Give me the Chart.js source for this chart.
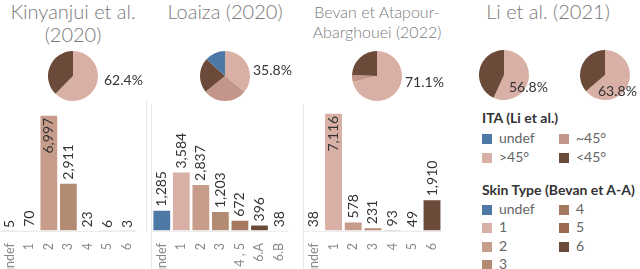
<!DOCTYPE html>
<html>
<head>
<meta charset="utf-8">
<script src="https://cdn.jsdelivr.net/npm/chart.js@4.4.1/dist/chart.umd.min.js"></script>
<style>
  body { margin: 0; background: #fff; font-family: Lato, "Open Sans", sans-serif; }
  #wrap { position: relative; width: 640px; height: 269px; overflow: hidden; }
  canvas { position: absolute; }
  .title { position: absolute; color: #7a7a7a; text-align: center; white-space: nowrap; line-height: 23px; font-size: 20px; font-weight: 300; }
  .pct { position: absolute; color: #333; font-size: 14px; white-space: nowrap; z-index: 2; }
  .vline { position: absolute; width: 1px; background: #e8e8e8; }
  .lg-title { position: absolute; color: #333; font-size: 14px; font-weight: bold; white-space: nowrap; }
  .lg-item { position: absolute; color: #666; font-size: 14px; white-space: nowrap; line-height: 14px; }
  .lg-item span { display: inline-block; width: 10px; height: 10px; margin-right: 7px; vertical-align: -1px; }
</style>
</head>
<body>
<div id="wrap">
  <div class="title" style="left:0;width:146px;top:0;">Kinyanjui et al.<br>(2020)</div>
  <div class="title" style="left:152px;width:146px;top:0;">Loaiza (2020)</div>
  <div class="title" style="left:304px;width:146px;top:2px;font-size:16px;line-height:20px;">Bevan et Atapour-<br>Abarghouei (2022)</div>
  <div class="title" style="left:456px;width:184px;top:0;">Li et al. (2021)</div>

  <div class="pct" style="left:104px;top:71px;">62.4%</div>
  <div class="pct" style="left:253px;top:61px;">35.8%</div>
  <div class="pct" style="left:405px;top:73px;">71.1%</div>
  <div class="pct" style="left:509px;top:78px;">56.8%</div>
  <div class="pct" style="left:598px;top:82px;">63.8%</div>

  <div class="vline" style="left:146px;top:100px;height:133px;"></div>
  <div class="vline" style="left:151px;top:104px;height:165px;"></div>
  <div class="vline" style="left:303px;top:104px;height:165px;"></div>

  <div id="legend"></div>
</div>
<script>
// bar counts per skin type
const kinyanjuiLabels = ["undef", "1", "2", "3", "4", "5", "6"];
const kinyanjuiCounts = [5, 70, 6997, 2911, 23, 6, 3];
const loaizaLabels = ["undef", "1", "2", "3", "4 , 5", "6.A", "6.B"];
const loaizaCounts = [1285, 3584, 2837, 1203, 672, 396, 38];
const bevanLabels = ["undef", "1", "2", "3", "4", "5", "6"];
const bevanCounts = [38, 7116, 578, 231, 93, 49, 1910];

// ITA pie shares (percent)
const kinyanjuiIta = [62.4, 37.6];          // >45, <45
const loaizaIta = [35.8, 28.4, 22.5, 13.3]; // >45, ~45, <45, undef
const bevanIta = [71.1, 4.6, 24.3];         // >45, ~45, <45
const liItaA = [56.8, 43.2];
const liItaB = [63.8, 36.2];

const yMax = 7590;
const yStep = 1000;

const BLUE = "#4e79a7", T1 = "#d8b0a6", T2 = "#c79c8b", T3 = "#b38b73",
      T4 = "#a57860", T5 = "#9b6a51", T6 = "#6b4a3a", MID = "#c4958a";

const W = document.getElementById("wrap");

function addCanvas(left, top, w, h) {
  const c = document.createElement("canvas");
  c.width = w; c.height = h;
  c.style.left = left + "px"; c.style.top = top + "px";
  W.appendChild(c);
  return c;
}

// rotated value labels on top of bars
const barLabels = {
  id: "barLabels",
  afterDatasetsDraw(chart) {
    const { ctx, chartArea } = chart;
    const meta = chart.getDatasetMeta(0);
    const vals = chart.data.datasets[0].data;
    ctx.save();
    ctx.font = "14px Lato";
    ctx.fillStyle = "#333";
    ctx.textBaseline = "middle";
    meta.data.forEach((bar, i) => {
      const text = vals[i].toLocaleString("en-US");
      const w = ctx.measureText(text).width;
      ctx.save();
      ctx.translate(bar.x, bar.y);
      ctx.rotate(-Math.PI / 2);
      if (bar.y - w - 4 < chartArea.top) {
        ctx.textAlign = "right";
        ctx.fillText(text, -3, 0);
      } else {
        ctx.textAlign = "left";
        ctx.fillText(text, 3, 0);
      }
      ctx.restore();
    });
    ctx.restore();
  }
};

function barChart(left, width, labels, counts, colors) {
  const c = addCanvas(left, 100, width, 169);
  new Chart(c, {
    type: "bar",
    data: {
      labels: labels,
      datasets: [{
        data: counts,
        backgroundColor: colors,
        borderColor: "rgba(255,255,255,0.35)",
        borderWidth: 1,
        barPercentage: 0.96,
        categoryPercentage: 1
      }]
    },
    options: {
      responsive: false,
      animation: false,
      devicePixelRatio: 1,
      layout: { padding: { top: 5, left: 0, right: 0, bottom: 0 } },
      plugins: { legend: { display: false }, tooltip: { enabled: false } },
      scales: {
        x: {
          grid: { display: false },
          border: { display: false },
          ticks: { color: "#888", font: { family: "Lato", size: 12.5 }, minRotation: 90, maxRotation: 90, padding: 4, autoSkip: false },
          afterFit: (s) => { s.height = 38; }
        },
        y: {
          min: 0, max: yMax,
          ticks: { display: false, stepSize: yStep },
          grid: { drawTicks: false, color: (ctx) => (ctx.tick && ctx.tick.value % yStep === 0) ? "#ececec" : "rgba(0,0,0,0)" },
          border: { display: false },
          afterFit: (s) => { s.width = 0; }
        }
      }
    },
    plugins: [barLabels]
  });
}

function pieChart(cx, cy, values, colors) {
  const r = 25;
  const c = addCanvas(cx - r, cy - r, r * 2, r * 2);
  new Chart(c, {
    type: "pie",
    data: { datasets: [{ data: values, backgroundColor: colors, borderWidth: 0 }] },
    options: {
      responsive: false,
      animation: false,
      devicePixelRatio: 1,
      plugins: { legend: { display: false }, tooltip: { enabled: false } }
    }
  });
}

barChart(0, 146, kinyanjuiLabels, kinyanjuiCounts, [BLUE, T1, T2, T3, T4, T5, T6]);
barChart(152, 146, loaizaLabels, loaizaCounts, [BLUE, T1, T2, T3, T4, T6, T6]);
barChart(304, 147, bevanLabels, bevanCounts, [BLUE, T1, T2, T3, T4, T5, T6]);

pieChart(73, 76, kinyanjuiIta, [T1, T6]);
pieChart(225, 76, loaizaIta, [T1, MID, T6, BLUE]);
pieChart(377, 76, bevanIta, [T1, MID, T6]);
pieChart(504, 75, liItaA, [T1, T6]);
pieChart(605, 75, liItaB, [T1, T6]);

// legend
const itaItems = [["undef", BLUE, 482, 131], ["~45°", MID, 559, 131], [">45°", T1, 482, 150], ["<45°", T6, 559, 150]];
const skinItems = [["undef", BLUE, 482, 202], ["1", T1, 482, 220], ["2", T2, 482, 239], ["3", T3, 482, 257],
                   ["4", T4, 559, 202], ["5", T5, 559, 220], ["6", T6, 559, 239]];
const lg = document.getElementById("legend");
let html = '<div class="lg-title" style="left:482px;top:109px;">ITA (Li et al.)</div>';
html += '<div class="lg-title" style="left:482px;top:181px;">Skin Type (Bevan et A-A)</div>';
itaItems.concat(skinItems).forEach(([t, col, x, y]) => {
  html += `<div class="lg-item" style="left:${x}px;top:${y}px;"><span style="background:${col}"></span>${t}</div>`;
});
lg.innerHTML = html;
</script>
</body>
</html>
